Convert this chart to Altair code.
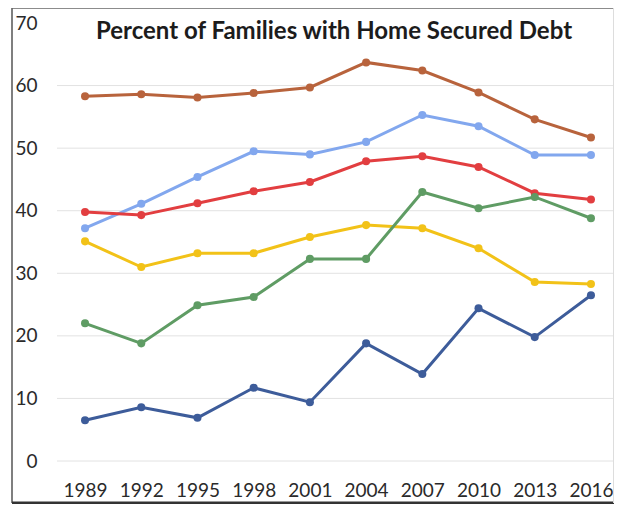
import altair as alt
import pandas as pd

years = ["1989", "1992", "1995", "1998", "2001", "2004", "2007", "2010", "2013", "2016"]
series_names = ["Brown", "Light blue", "Red", "Yellow", "Green", "Navy"]
brown = [58.3, 58.6, 58.1, 58.8, 59.7, 63.7, 62.4, 58.9, 54.6, 51.7]
light_blue = [37.2, 41.1, 45.4, 49.5, 49.0, 51.0, 55.3, 53.5, 48.9, 48.9]
red = [39.8, 39.3, 41.2, 43.1, 44.6, 47.9, 48.7, 47.0, 42.8, 41.8]
yellow = [35.1, 31.0, 33.2, 33.2, 35.8, 37.7, 37.2, 34.0, 28.6, 28.3]
green = [22.0, 18.8, 24.9, 26.2, 32.3, 32.3, 43.0, 40.4, 42.2, 38.8]
navy = [6.5, 8.6, 6.9, 11.7, 9.4, 18.8, 13.9, 24.4, 19.8, 26.5]
colors = ["#B8633C", "#82A7EE", "#E23E40", "#F2C218", "#5F9C64", "#3D5C9A"]
grid_values = [0, 10, 20, 30, 40, 50, 60]
label_values = [0, 10, 20, 30, 40, 50, 60, 70]

rows = []
for name, vals in zip(series_names, [brown, light_blue, red, yellow, green, navy]):
    for y, v in zip(years, vals):
        rows.append({"year": y, "value": v, "series": name})
df = pd.DataFrame(rows)

W, H = 552, 438
font = "Lato"

x = alt.X("year:O", scale=alt.Scale(type="point", padding=0.41, domain=years),
          axis=alt.Axis(title=None, labelAngle=0, labelFontSize=19, labelFont=font,
                        labelColor="#2a2a2a", labelPadding=20, domain=False, ticks=False))
yscale = alt.Scale(domain=[0, 70], nice=False)
y_axis = alt.Axis(title=None, values=label_values, labelFontSize=19, labelFont=font,
                  labelColor="#2a2a2a", labelPadding=25, domain=False, ticks=False, grid=False)
y = alt.Y("value:Q", scale=yscale, axis=y_axis)
color = alt.Color("series:N", scale=alt.Scale(domain=series_names, range=colors), legend=None)

grid = alt.Chart(pd.DataFrame({"value": grid_values})).mark_rule(color="#e2e2e2", strokeWidth=1).encode(
    y=y, x=alt.value(-5), x2=alt.value(W))

lines = alt.Chart(df).mark_line(strokeWidth=3).encode(x=x, y=y, color=color)
points = alt.Chart(df).mark_circle(size=65, opacity=1).encode(x=x, y=y, color=color)

one = pd.DataFrame({"a": [0]})
frame_left = alt.Chart(one).mark_rule(color="#555555", strokeWidth=1.5).encode(
    x=alt.value(-50), y=alt.value(-15), y2=alt.value(480))
frame_top = alt.Chart(one).mark_rule(color="#666666", strokeWidth=1.5).encode(
    x=alt.value(-50), x2=alt.value(W), y=alt.value(-15))
frame_bottom = alt.Chart(one).mark_rule(color="#333333", strokeWidth=3).encode(
    x=alt.value(-50), x2=alt.value(W), y=alt.value(480))
frame_right = alt.Chart(one).mark_rule(color="#dddddd", strokeWidth=1).encode(
    x=alt.value(W - 0.5), y=alt.value(-15), y2=alt.value(480))

chart = alt.layer(grid, lines, points, frame_left, frame_top, frame_bottom, frame_right).properties(
    width=W, height=H,
    title=alt.TitleParams("Percent of Families with Home Secured Debt", font=font, fontSize=24,
                          fontWeight="bold", color="#1c1c1c", anchor="middle", frame="group",
                          offset=-37, dx=-4),
    autosize="none",
    padding={"left": 54, "top": 15, "right": 0, "bottom": 43},
).configure_view(stroke=None)

chart.save("out.html", embed_options={"renderer": "svg", "actions": False})
